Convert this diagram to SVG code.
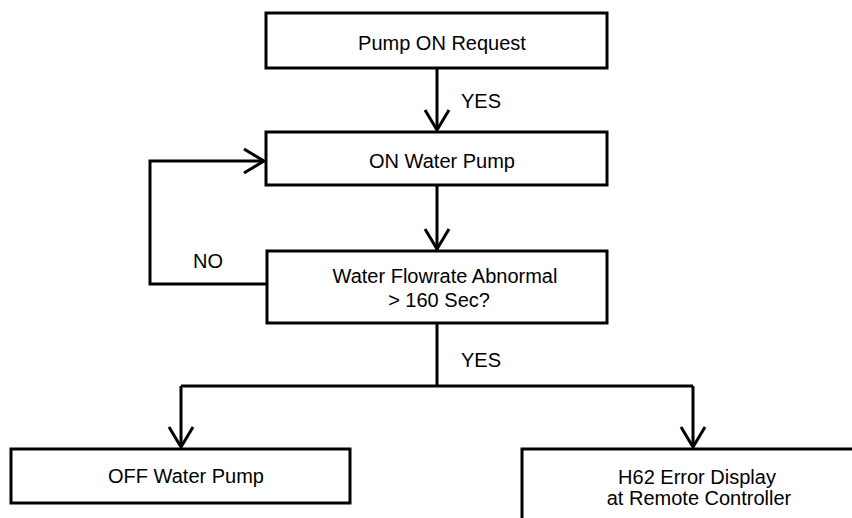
<svg xmlns="http://www.w3.org/2000/svg" width="852" height="518" viewBox="0 0 852 518">
<style>
.box{fill:#fff;stroke:#000;stroke-width:3}
.ln{fill:none;stroke:#000;stroke-width:3}
text{font-family:"Liberation Sans",Arial,sans-serif;font-size:20px;fill:#000;text-anchor:middle}
</style>
<defs>
<marker id="arr" viewBox="-22 -14 24 28" refX="0" refY="0" markerWidth="24" markerHeight="28" markerUnits="userSpaceOnUse" orient="auto">
<path d="M-20,-12 L0,0 L-20,12" fill="none" stroke="#000" stroke-width="3"/>
</marker>
</defs>
<rect width="852" height="518" fill="#fff"/>
<g id="connectors">
<path class="ln" d="M437,68 V130" marker-end="url(#arr)"/>
<path class="ln" d="M437,185 V249" marker-end="url(#arr)"/>
<path class="ln" d="M267,284 H150 V161 H264" marker-end="url(#arr)"/>
<path class="ln" d="M437,323 V386"/>
<path class="ln" d="M181,386 H693"/>
<path class="ln" d="M181,386 V447" marker-end="url(#arr)"/>
<path class="ln" d="M693,386 V447" marker-end="url(#arr)"/>
<text x="481" y="108">YES</text>
<text x="481" y="367">YES</text>
<text x="208" y="268">NO</text>
</g>
<g id="n1"><rect class="box" x="266" y="13" width="341" height="55"/><text x="442" y="50">Pump ON Request</text></g>
<g id="n2"><rect class="box" x="266" y="132" width="341" height="53"/><text x="442" y="168">ON Water Pump</text></g>
<g id="n3"><rect class="box" x="267" y="251" width="340" height="72"/><text x="445" y="283">Water Flowrate Abnormal</text><text x="439" y="307">&gt; 160 Sec?</text></g>
<g id="n4"><rect class="box" x="11" y="449" width="339" height="54"/><text x="186" y="483">OFF Water Pump</text></g>
<g id="n5"><rect class="box" x="522" y="449" width="350" height="90"/><text x="697" y="484">H62 Error Display</text><text x="699" y="505">at Remote Controller</text></g>
</svg>
